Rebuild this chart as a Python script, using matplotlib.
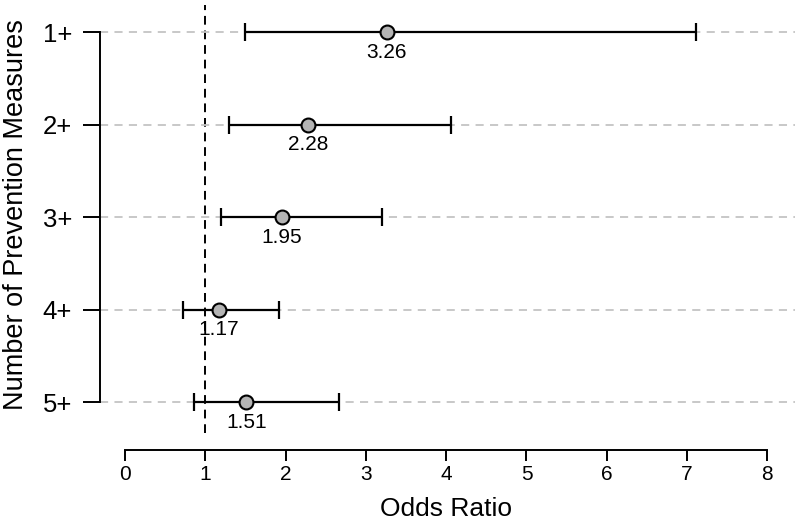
import matplotlib
matplotlib.use("Agg")
import matplotlib.pyplot as plt
import matplotlib.transforms as mtransforms

plt.rcParams['font.family'] = ['Liberation Sans', 'DejaVu Sans']

# data
groups = ["1+", "2+", "3+", "4+", "5+"]
odds = [3.26, 2.28, 1.95, 1.17, 1.51]
ci_low = [1.50, 1.29, 1.20, 0.72, 0.86]
ci_high = [7.11, 4.06, 3.20, 1.92, 2.66]
x_ticks = [0, 1, 2, 3, 4, 5, 6, 7, 8]

fig = plt.figure(figsize=(8.01, 5.25), dpi=100)
ax = fig.add_axes([100 / 801, 1 - 433 / 525, 695 / 801, 428 / 525])

ypos = list(range(1, len(groups) + 1))

# grey dashed guide lines for each row
ax.grid(axis='y', color='#c4c4c4', linestyle=(0, (4.5, 3.5)), linewidth=1.3, zorder=0)
ax.grid(axis='x', visible=False)

# reference line at OR = 1
ax.axvline(1, color='black', linestyle=(0, (4.5, 3)), linewidth=1.4, zorder=1)

err = [[o - l for o, l in zip(odds, ci_low)], [h - o for o, h in zip(odds, ci_high)]]
ax.errorbar(odds, ypos, xerr=err, fmt='none', ecolor='black', elinewidth=1.6,
            capsize=6.5, capthick=1.6, zorder=2)
ax.plot(odds, ypos, 'o', markersize=10, markerfacecolor='#b4b4b4',
        markeredgecolor='black', markeredgewidth=1.5, zorder=3)

for o, y in zip(odds, ypos):
    ax.annotate("%.2f" % o, (o, y), xytext=(0, -14.5), textcoords='offset points',
                ha='center', va='center', fontsize=15)

ax.set_xlim(-0.311, 8.344)
ax.set_ylim(5.335, 0.708)

for s in ['top', 'right']:
    ax.spines[s].set_visible(False)
ax.spines['bottom'].set_bounds(0, 8)
ax.spines['bottom'].set_position(('outward', 12.2))
ax.spines['bottom'].set_linewidth(1.4)
ax.spines['left'].set_bounds(1, 5)
ax.spines['left'].set_linewidth(1.4)

ax.set_xticks(x_ticks)
ax.set_xticklabels([str(t) for t in x_ticks])
ax.set_yticks(ypos)
ax.set_yticklabels(groups)
ax.tick_params(axis='x', length=8, width=1.4, pad=2.5, labelsize=15)
ax.tick_params(axis='y', length=12.2, width=1.4, pad=8, labelsize=18.5)

# axis titles
trans = mtransforms.blended_transform_factory(ax.transData, fig.transFigure)
ax.text(4, 1 - 509 / 525, "Odds Ratio", transform=trans, ha='center', va='center', fontsize=19)
fig.text(16 / 801, 1 - 215 / 525, "Number of Prevention Measures", rotation=90,
         ha='center', va='center', fontsize=19.5)

fig.savefig("out.png", dpi=100)
